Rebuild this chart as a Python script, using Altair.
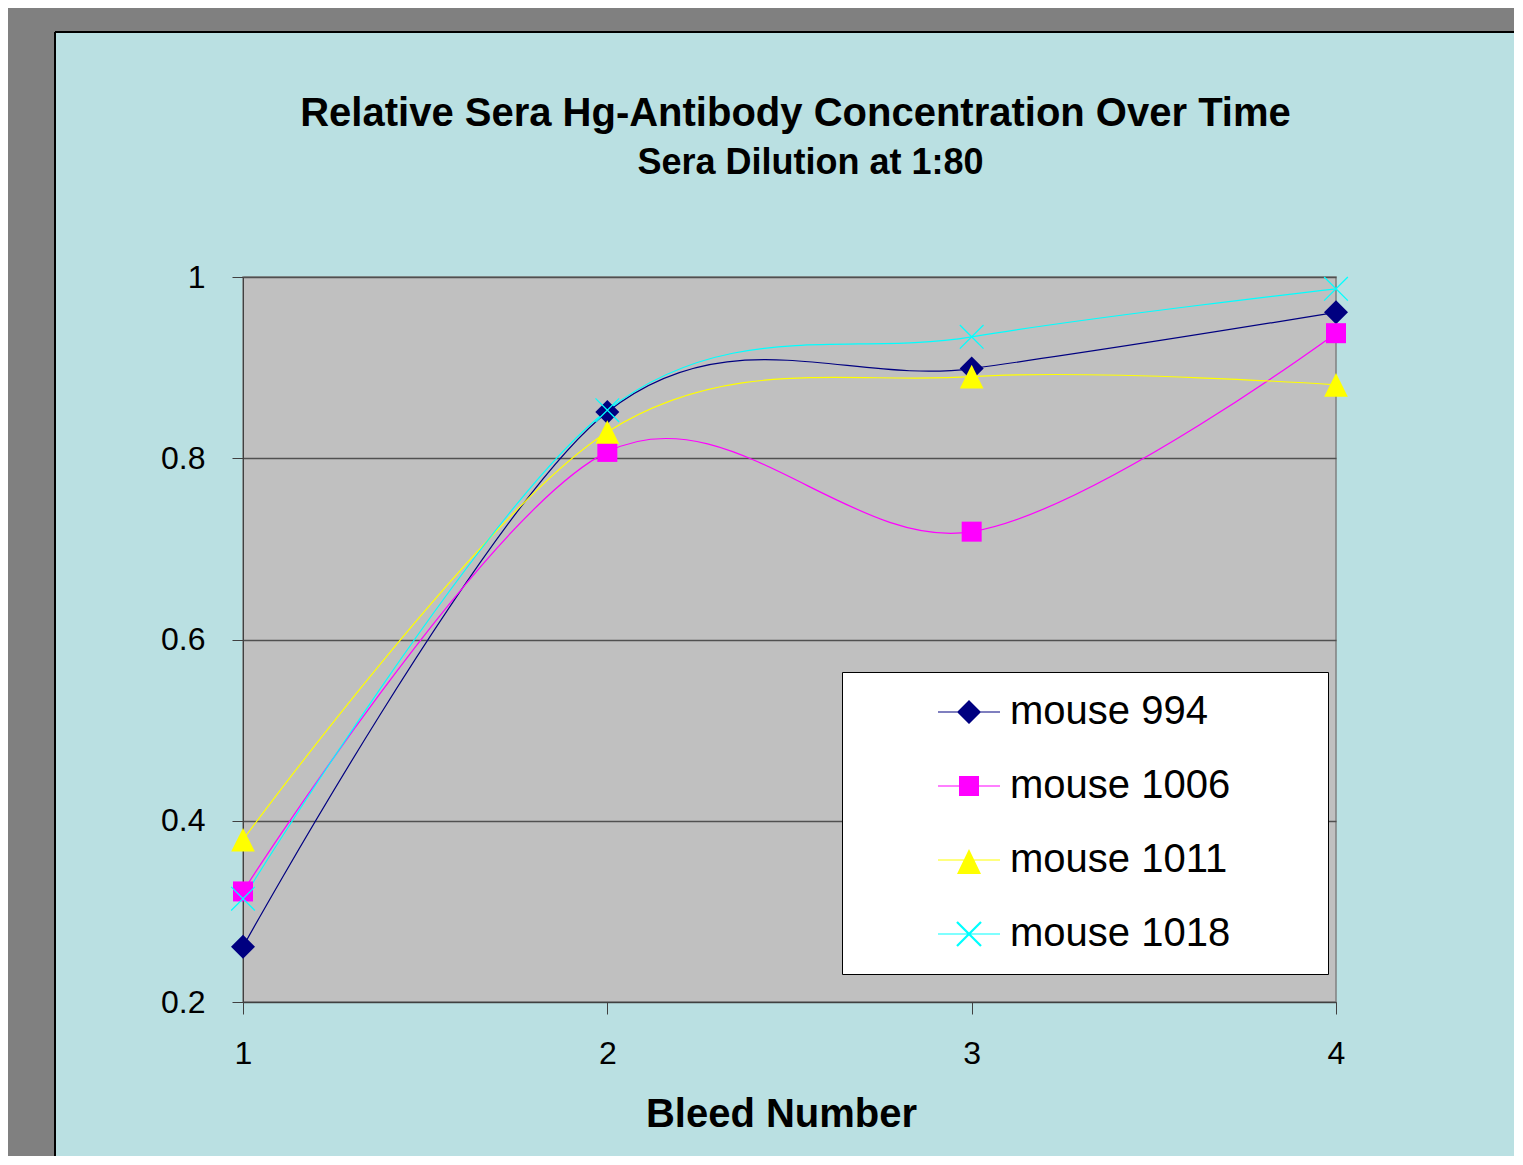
import altair as alt
import pandas as pd

# ---- data ----
bleeds = [1, 2, 3, 4]
series_names = ["mouse 994", "mouse 1006", "mouse 1011", "mouse 1018"]
m994 = [0.261, 0.851, 0.899, 0.961]
m1006 = [0.322, 0.807, 0.719, 0.938]
m1011 = [0.379, 0.829, 0.890, 0.881]
m1018 = [0.314, 0.853, 0.934, 0.987]
y_ticks = [0.2, 0.4, 0.6, 0.8, 1.0]
x_ticks = [1, 2, 3, 4]
colors = ["#000080", "#ff00ff", "#ffff00", "#00ffff"]

rows = []
for name, vals in zip(series_names, [m994, m1006, m1011, m1018]):
    for b, v in zip(bleeds, vals):
        rows.append({"bleed": b, "value": v, "series": name})
df = pd.DataFrame(rows)

W, H = 1093, 725
FONT = "Arial"

x_enc = alt.X("bleed:Q", scale=alt.Scale(domain=[1, 4], nice=False, zero=False),
              axis=alt.Axis(values=x_ticks, format="d", grid=False, tickSize=12,
                            labelFontSize=32, labelFont=FONT, labelColor="black",
                            labelPadding=24, labelFlush=False,
                            tickColor="#404040", domainColor="#404040",
                            title="Bleed Number", titleFont=FONT, titleFontSize=40,
                            titleFontWeight="bold", titleColor="black", titlePadding=25,
                            titleX=538))
y_enc = alt.Y("value:Q", scale=alt.Scale(domain=[0.2, 1.0], nice=False, zero=False),
              axis=alt.Axis(values=y_ticks, format="~g", grid=True, gridColor="#505050",
                            gridWidth=1.3, tickSize=11, labelFontSize=32, labelFont=FONT,
                            labelColor="black", labelPadding=27, labelFlush=False,
                            tickColor="#404040", domainColor="#404040", title=None))


def color_enc(legend=None):
    return alt.Color("series:N", scale=alt.Scale(domain=series_names, range=colors),
                     legend=legend)


base = alt.Chart(df)

# decorative frame (outer grey strips + black border of the chart panel)
deco = alt.Chart(alt.Data(values=[{"k": 1}]))
top_strip = deco.mark_rect(color="#808080").encode(
    x=alt.value(-235), x2=alt.value(1290), y=alt.value(-269), y2=alt.value(-245))
left_strip = deco.mark_rect(color="#808080").encode(
    x=alt.value(-235), x2=alt.value(-188), y=alt.value(-269), y2=alt.value(900))
border_h = deco.mark_rule(color="black", strokeWidth=2).encode(
    x=alt.value(-188), x2=alt.value(1290), y=alt.value(-245))
border_v = deco.mark_rule(color="black", strokeWidth=2).encode(
    x=alt.value(-188), y=alt.value(-245), y2=alt.value(900))

lines = base.mark_line(interpolate="cardinal", tension=0, strokeWidth=1.2).encode(
    x=x_enc, y=y_enc, color=color_enc())

point_shapes = {
    "mouse 994": ("M0,-1L1,0L0,1L-1,0Z", 576, True),
    "mouse 1006": ("square", 400, True),
    "mouse 1011": ("M0,-1L1,1L-1,1Z", 560, True),
    "mouse 1018": ("M-1,-1L1,1M-1,1L1,-1", 560, False),
}
point_layers = []
for name in series_names:
    shp, sz, filled = point_shapes[name]
    point_layers.append(
        base.transform_filter(alt.datum.series == name)
        .mark_point(shape=shp, size=sz, filled=filled, opacity=1, strokeWidth=1.3)
        .encode(x=x_enc, y=y_enc, color=color_enc())
    )

# legend symbols: line + marker as custom paths (unit = 20px with size 1600)
cx = 4.35
t = 0.03
bar = f"M2.8,{-t}H5.9V{t}H2.8Z"
diamond = f"M{cx},-0.6L{cx+0.6},0L{cx},0.6L{cx-0.6},0Z"
square = f"M{cx-0.5},-0.5H{cx+0.5}V0.5H{cx-0.5}Z"
tri = f"M{cx},-0.55L{cx+0.6},0.7L{cx-0.6},0.7Z"
d = 0.6
w = 0.04
xmark = (f"M{cx-d-w},{-d+w}L{cx-d+w},{-d-w}L{cx+d+w},{d-w}L{cx+d-w},{d+w}Z"
         f"M{cx+d-w},{-d-w}L{cx+d+w},{-d+w}L{cx-d+w},{d+w}L{cx-d-w},{d-w}Z")
legend_paths = [bar + diamond, bar + square, bar + tri, bar + xmark]

# trailing non-breaking spaces (kept by a zero-width char) widen the legend box
pad_text = "\u00a0" * 7 + "\u200b"
leg = alt.Legend(title=None, orient="none", legendX=599, legendY=395,
                 fillColor="white", strokeColor="black", padding=20,
                 symbolSize=1600, symbolStrokeWidth=0, symbolOpacity=1,
                 labelFontSize=40, labelFont=FONT, labelColor="black",
                 labelOffset=108, labelLimit=800, rowPadding=34, zindex=1,
                 labelExpr=f"datum.label + '{pad_text}'")
legend_layer = base.transform_filter("false").mark_point(
    filled=True, opacity=1, size=1600).encode(
    x=x_enc, y=y_enc,
    color=color_enc(leg),
    shape=alt.Shape("series:N", scale=alt.Scale(domain=series_names, range=legend_paths),
                    legend=leg),
)

chart = alt.layer(
    top_strip, left_strip, border_h, border_v, lines, *point_layers, legend_layer
).resolve_scale(color="independent", shape="independent").properties(
    width=W, height=H,
    padding={"left": 235, "top": 269, "right": 178, "bottom": 154},
    autosize=alt.AutoSizeParams(type="none"),
    background="#bae0e2",
    title=alt.TitleParams(
        text="Relative Sera Hg-Antibody Concentration Over Time",
        subtitle="\u200b\u00a0\u00a0\u00a0Sera Dilution at 1:80",
        font=FONT, fontSize=40, fontWeight="bold", color="black",
        subtitleFont=FONT, subtitleFontSize=36, subtitleFontWeight="bold",
        subtitleColor="black", subtitlePadding=12, anchor="middle", frame="group",
        offset=-173, dx=6),
).configure_view(fill="#c0c0c0", stroke="#808080", strokeWidth=1.5)

chart.save("out.html", embed_options={"renderer": "svg", "actions": False})
